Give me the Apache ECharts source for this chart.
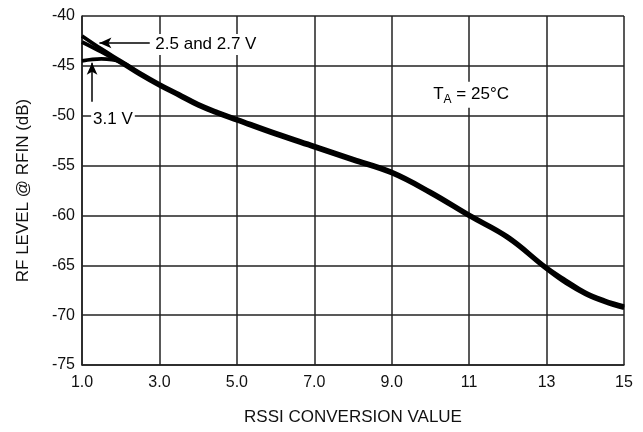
<!DOCTYPE html>
<html><head><meta charset="utf-8">
<script src="https://cdn.jsdelivr.net/npm/echarts@6/dist/echarts.min.js"></script>
<style>html,body{margin:0;padding:0;background:#fff}#c{width:643px;height:432px}</style>
</head><body><div id="c"></div>
<script>
const xValues = [1, 1.5, 2, 2.5, 3, 3.5, 4, 4.5, 5, 6, 7, 8, 9, 10, 11, 12, 13, 13.5, 14, 14.5, 15];
const v25 = [-42.0, -43.3, -44.5, -45.7, -46.8, -47.8, -48.8, -49.6, -50.3, -51.7, -53.0, -54.3, -55.6, -57.6, -59.9, -62.1, -65.2, -66.5, -67.7, -68.5, -69.1];
const v27 = [-42.6, -43.6, -44.7, -45.9, -47.0, -48.0, -49.0, -49.8, -50.5, -51.9, -53.2, -54.5, -55.8, -57.8, -60.1, -62.3, -65.4, -66.8, -67.9, -68.7, -69.3];
const v31 = [-44.5, -44.3, -44.6, -45.8, -46.9, -47.9, -48.9, -49.7, -50.4, -51.8, -53.1, -54.4, -55.7, -57.7, -60.0, -62.2, -65.3, -66.6, -67.8, -68.6, -69.2];
const xTicks = [1, 3, 5, 7, 9, 11, 13, 15];
const xTickLabels = ["1.0", "3.0", "5.0", "7.0", "9.0", "11", "13", "15"];
const yTicks = [-75, -70, -65, -60, -55, -50, -45, -40];

const FONT = '"Liberation Sans", Arial, sans-serif';
const chart = echarts.init(document.getElementById('c'));
const pair = a => xValues.map((x, i) => [x, a[i]]);
const lineSeries = (name, data) => ({
  name, type: 'line', data: pair(data), smooth: 0.4, showSymbol: false,
  lineStyle: { color: '#000', width: 3.8 }, z: 5, silent: true
});

chart.setOption({
  animation: false,
  grid: { left: 82, right: 19, top: 16, bottom: 67 },
  xAxis: {
    type: 'value', min: xTicks[0], max: xTicks[xTicks.length - 1], interval: 2,
    name: 'RSSI CONVERSION VALUE', nameLocation: 'middle', nameGap: 44,
    nameTextStyle: { fontFamily: FONT, fontSize: 17, color: '#111' },
    axisLine: { show: true, lineStyle: { color: '#222', width: 1.5 } },
    axisTick: { show: false },
    axisLabel: { margin: 10, fontFamily: FONT, fontSize: 16, color: '#111',
      formatter: v => { const i = xTicks.indexOf(v); return i >= 0 ? xTickLabels[i] : ''; } },
    splitLine: { show: true, lineStyle: { color: '#222', width: 1.5 } }
  },
  yAxis: {
    type: 'value', min: yTicks[0], max: yTicks[yTicks.length - 1], interval: 5,
    name: 'RF LEVEL @ RFIN (dB)', nameLocation: 'middle', nameGap: 50,
    nameTextStyle: { fontFamily: FONT, fontSize: 17, color: '#111' },
    axisLine: { show: true, lineStyle: { color: '#222', width: 1.5 } },
    axisTick: { show: false },
    axisLabel: { margin: 7, fontFamily: FONT, fontSize: 16, color: '#111' },
    splitLine: { show: true, lineStyle: { color: '#222', width: 1.5 } }
  },
  series: [
    lineSeries('2.5 V', v25),
    lineSeries('2.7 V', v27),
    lineSeries('3.1 V', v31),
    {
      type: 'scatter', symbolSize: 1, z: 4, silent: true,
      itemStyle: { color: 'rgba(0,0,0,0)' },
      data: [
        { value: [4.2, -42.86], label: { formatter: '2.5 and 2.7 V' } },
        { value: [1.8, -50.4], label: { formatter: '3.1 V' } },
        { value: [11.05, -47.9], label: { formatter: 'T{s|A} = 25°C' } }
      ],
      label: {
        show: true, position: 'inside', fontFamily: FONT, fontSize: 17, color: '#000',
        textBorderWidth: 0, opacity: 1,
        backgroundColor: '#fff', padding: [2, 2],
        rich: { s: { fontFamily: FONT, fontSize: 12, color: '#000', textBorderWidth: 0, verticalAlign: 'bottom', padding: [10, 0, 0, 0] } }
      },
      markLine: {
        silent: true, symbol: ['none', 'arrow'], symbolSize: [8, 12],
        label: { show: false },
        lineStyle: { color: '#000', width: 1.5, type: 'solid' },
        data: [
          [{ coord: [2.75, -42.7] }, { coord: [1.45, -42.7] }],
          [{ coord: [1.26, -48.6] }, { coord: [1.26, -44.7] }]
        ]
      }
    }
  ]
});
</script></body></html>
